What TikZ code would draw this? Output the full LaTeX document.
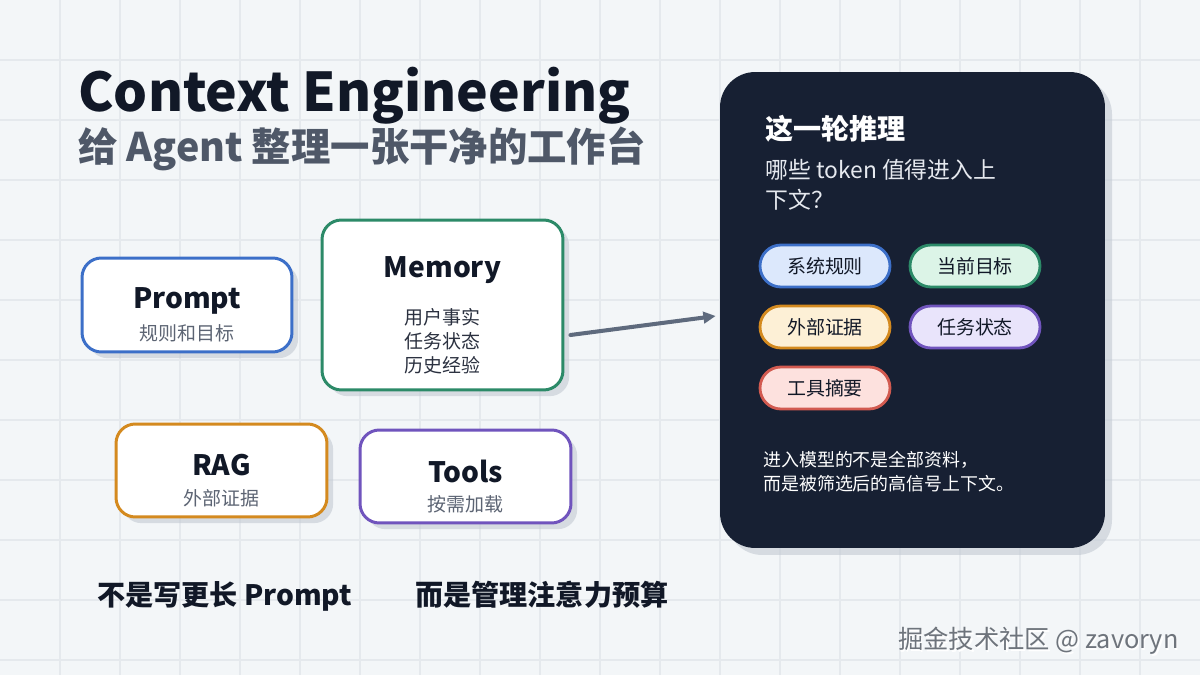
\documentclass[tikz,border=0pt]{standalone}
\usepackage{fontspec}
\setmainfont{Noto Sans CJK SC}
\usetikzlibrary{arrows.meta,shadows}

\definecolor{bgpaper}{HTML}{F3F6F8}
\definecolor{gridline}{HTML}{E5E9ED}
\definecolor{inkdark}{HTML}{111827}
\definecolor{inkbody}{HTML}{2B3140}
\definecolor{inkslate}{HTML}{4F5868}
\definecolor{inkgray}{HTML}{5C6473}
\definecolor{navy}{HTML}{172033}
\definecolor{panelink}{HTML}{E6E9EF}
\definecolor{shadowgray}{HTML}{C3CAD3}
\definecolor{arrowgray}{HTML}{5E6A7D}
\definecolor{markgray}{HTML}{6E747C}
\definecolor{cblue}{HTML}{3C6FC8}
\definecolor{cgreen}{HTML}{2C8A68}
\definecolor{corange}{HTML}{D48A1F}
\definecolor{cpurple}{HTML}{7054BD}
\definecolor{cred}{HTML}{D25A50}
\definecolor{pblue}{HTML}{DCE8FC}
\definecolor{pgreen}{HTML}{DCF4E7}
\definecolor{porange}{HTML}{FDF0D6}
\definecolor{ppurple}{HTML}{E9E4FB}
\definecolor{pred}{HTML}{FDE1DE}

\begin{document}
\begin{tikzpicture}[x=0.02cm, y=-0.02cm,
    card/.style={draw, line width=1.7pt, fill=white, rounded corners=11pt, inner sep=0pt,
        drop shadow={shadow xshift=3.5pt, shadow yshift=-3.5pt, fill=shadowgray, opacity=0.6}},
    cardtitle/.style={anchor=base, inner sep=0pt, text=inkdark, font=\fontsize{16}{19}\selectfont\bfseries},
    cardsub/.style={anchor=base, inner sep=0pt, text=inkgray, font=\fontsize{10.8}{13}\selectfont},
    plaintext/.style={anchor=base west, inner sep=0pt},
    pill/.style={draw, line width=1.6pt, rounded corners=11.9pt, minimum width=2.6cm, minimum height=0.84cm,
        inner sep=0pt, text=inkdark, font=\fontsize{10.8}{13}\selectfont},
    flow/.style={-{Triangle[length=7pt, width=6.5pt]}, line width=2.3pt, draw=arrowgray, line cap=round}]

    \useasboundingbox (0,0) rectangle (1200,675);

    % --- BACKGROUND ---
    \fill[bgpaper] (0,0) rectangle (1200,675);
    \foreach \gx in {60,120,...,1140}
        \draw[gridline, line width=0.6pt] (\gx,0) -- (\gx,675);
    \foreach \gy in {60,120,...,660}
        \draw[gridline, line width=0.6pt] (0,\gy) -- (1200,\gy);

    % --- HEADLINE ---
    \node[plaintext, text=inkdark, font=\fontsize{30.4}{36}\selectfont\bfseries] (title) at (78,112) {Context Engineering};
    \node[plaintext, text=inkslate, font=\fontsize{22.4}{26}\selectfont\bfseries] (subtitle) at (78,162) {给 Agent 整理一张干净的工作台};

    % --- SOURCE CARDS ---
    \node[card, draw=cblue, minimum width=4.2cm, minimum height=1.88cm] (prompt) at (187,305) {};
    \node[cardtitle] (prompttitle) at (187,309) {Prompt};
    \node[cardsub] (promptsub) at (187,341) {规则和目标};

    \node[card, draw=cgreen, minimum width=4.82cm, minimum height=3.4cm] (memory) at (442.5,305) {};
    \node[cardtitle] (memorytitle) at (442.5,278) {Memory};
    \foreach \txt [count=\i] in {用户事实,任务状态,历史经验}
        \node[cardsub, text=inkbody] (memline\i) at (442.5,301+24*\i) {\txt};

    \node[card, draw=corange, minimum width=4.22cm, minimum height=1.86cm] (rag) at (221.5,470.5) {};
    \node[cardtitle] (ragtitle) at (221.5,475) {RAG};
    \node[cardsub] (ragsub) at (221.5,505) {外部证据};

    \node[card, draw=cpurple, minimum width=4.22cm, minimum height=1.86cm] (tools) at (465.5,476.5) {};
    \node[cardtitle] (toolstitle) at (465.5,482) {Tools};
    \node[cardsub] (toolssub) at (465.5,511) {按需加载};

    % --- CONTEXT PANEL ---
    \node[fill=navy, rounded corners=20pt, minimum width=7.7cm, minimum height=9.52cm, inner sep=0pt,
        drop shadow={shadow xshift=4pt, shadow yshift=-4pt, fill=shadowgray, opacity=0.6}] (panel) at (912.5,310) {};

    \draw[flow] ([shift={(6,30)}]memory.east) -- ([shift={(-4,6)}]panel.west);

    \node[plaintext, text=white, font=\fontsize{16}{19}\selectfont\bfseries] (paneltitle) at (765,140) {这一轮推理};
    \node[plaintext, text=panelink, font=\fontsize{13}{16}\selectfont] (question) at (765,179) {哪些 token 值得进入上};
    \node[plaintext, text=panelink, font=\fontsize{13}{16}\selectfont] (questiontail) at (765,209) {下文？};

    \foreach \lbl/\px/\py/\bc/\fc [count=\i] in {系统规则/825/266/cblue/pblue, 当前目标/975/266/cgreen/pgreen,
            外部证据/825/327/corange/porange, 任务状态/975/327/cpurple/ppurple, 工具摘要/825/388/cred/pred}
        \node[pill, draw=\bc, fill=\fc] (pill\i) at (\px,\py) {\lbl};

    \node[plaintext, text=white, font=\fontsize{10.2}{13}\selectfont] (noteone) at (763,466) {进入模型的不是全部资料，};
    \node[plaintext, text=white, font=\fontsize{10.2}{13}\selectfont] (notetwo) at (763,490) {而是被筛选后的高信号上下文。};

    % --- FOOTER ---
    \node[plaintext, text=inkdark, font=\fontsize{16}{19}\selectfont\bfseries] (notlonger) at (97,605) {不是写更长 Prompt};
    \node[plaintext, text=inkdark, font=\fontsize{16}{19}\selectfont\bfseries] (budget) at (415,605) {而是管理注意力预算};

    \node[plaintext, text=white, font=\fontsize{14.4}{17}\selectfont] (markshade) at (899.5,650) {掘金技术社区 @ zavoryn};
    \node[plaintext, text=markgray, font=\fontsize{14.4}{17}\selectfont] (mark) at (898,648.5) {掘金技术社区 @ zavoryn};
\end{tikzpicture}
\end{document}
